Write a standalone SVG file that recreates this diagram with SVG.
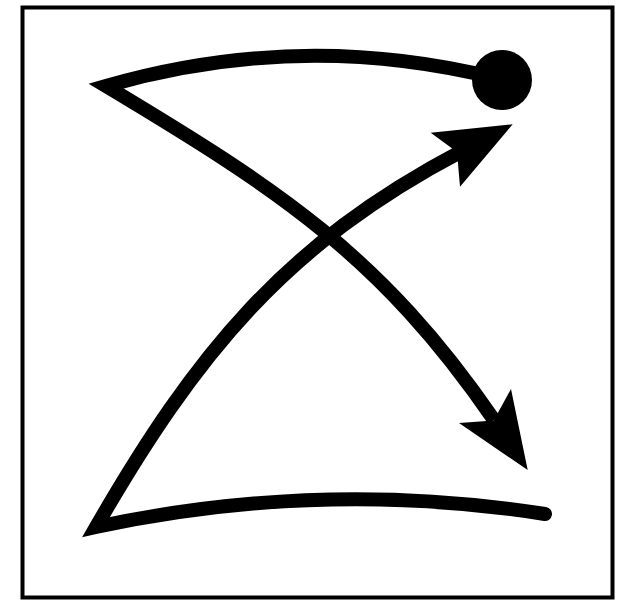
<svg xmlns="http://www.w3.org/2000/svg" width="617" height="607" viewBox="0 0 617 607">
<style>
.frame{fill:#fff;stroke:#000;stroke-width:4}
.stroke{fill:none;stroke:#000;stroke-width:14;stroke-linejoin:miter;stroke-miterlimit:10;stroke-linecap:round}
.head{fill:#000;stroke:none}
</style>
<rect width="617" height="607" fill="#fff"/>
<rect class="frame" x="22.5" y="7.5" width="590" height="590"/>
<g id="connectors">
<path id="top-to-down" class="stroke" d="M495 78 Q300 30 106 86 C277.4 188.8 380.8 255.2 494 420" style="stroke-linecap:butt"/>
<circle cx="502" cy="80" r="30" fill="#000"/>
<polygon class="head" points="527.7,470 459,423 493.7,420.6 511,389"/>
<path id="bottom-to-up" class="stroke" d="M545 514 Q320.5 479 96 527 C196 353.8 284.6 244.2 462 151"/>
<polygon class="head" points="512.7,124.3 430.7,132.7 457,152 460,186.7"/>
</g>
</svg>
